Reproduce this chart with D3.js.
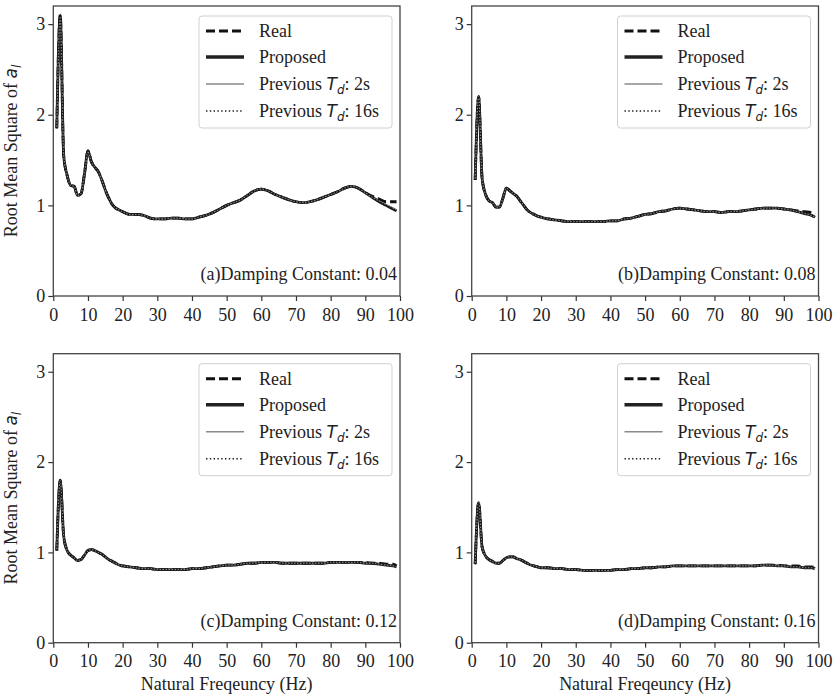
<!DOCTYPE html>
<html>
<head>
<meta charset="utf-8">
<script src="https://cdn.jsdelivr.net/npm/d3@7"></script>
<style>
  html, body { margin: 0; padding: 0; background: #fff; }
  svg { display: block; }
</style>
</head>
<body>
<svg id="chart" width="837" height="700"></svg>
<script>
// ---------------- DATA ----------------
const freq = [1,2,3,4,5,6,7,8,9,10,11,12,13,14,15,16,17,18,19,20,
  22,24,26,28,30,32,34,36,38,40,42,44,46,48,50,52,54,56,58,60,
  62,64,66,68,70,72,74,76,78,80,82,84,86,88,90,92,94,96,98,99];

// (a) damping 0.04
const proposedA = [1.85,3.10,1.55,1.33,1.22,1.21,1.11,1.13,1.35,1.60,1.48,1.42,1.37,1.28,1.17,1.08,1.01,0.97,0.95,0.93,
  0.90,0.90,0.89,0.86,0.85,0.85,0.86,0.86,0.85,0.85,0.87,0.89,0.92,0.96,1.00,1.03,1.06,1.11,1.16,1.18,
  1.16,1.12,1.09,1.06,1.04,1.03,1.04,1.06,1.09,1.12,1.15,1.19,1.21,1.19,1.14,1.09,1.04,1.00,0.96,0.94];
const realA = [1.85,3.10,1.55,1.33,1.22,1.21,1.11,1.13,1.35,1.60,1.48,1.42,1.37,1.28,1.17,1.08,1.01,0.97,0.95,0.93,
  0.90,0.90,0.89,0.86,0.85,0.85,0.86,0.86,0.85,0.85,0.87,0.89,0.92,0.96,1.00,1.03,1.06,1.11,1.16,1.18,
  1.16,1.12,1.09,1.06,1.04,1.03,1.04,1.06,1.09,1.12,1.15,1.19,1.21,1.19,1.14,1.10,1.07,1.04,1.04,1.04];
const prev2A = [1.85,3.08,1.56,1.33,1.22,1.21,1.11,1.13,1.35,1.59,1.48,1.42,1.37,1.28,1.17,1.08,1.01,0.97,0.95,0.93,
  0.90,0.90,0.89,0.86,0.85,0.85,0.86,0.86,0.85,0.85,0.87,0.89,0.92,0.96,1.00,1.03,1.06,1.11,1.16,1.18,
  1.16,1.12,1.09,1.06,1.04,1.03,1.04,1.06,1.09,1.12,1.15,1.19,1.21,1.19,1.14,1.09,1.05,1.01,0.97,0.95];
const prev16A = [1.85,3.10,1.55,1.33,1.22,1.21,1.11,1.13,1.35,1.60,1.48,1.42,1.37,1.28,1.17,1.08,1.01,0.97,0.95,0.93,
  0.90,0.90,0.89,0.86,0.85,0.85,0.86,0.86,0.85,0.85,0.87,0.89,0.92,0.96,1.00,1.03,1.06,1.11,1.16,1.18,
  1.16,1.12,1.09,1.06,1.04,1.03,1.04,1.06,1.09,1.12,1.15,1.19,1.21,1.19,1.14,1.09,1.04,1.00,0.96,0.94];

// (b) damping 0.08
const proposedB = [1.28,2.20,1.30,1.12,1.05,1.03,0.98,0.98,1.08,1.19,1.16,1.13,1.10,1.05,1.00,0.95,0.92,0.90,0.88,0.87,
  0.85,0.84,0.83,0.82,0.82,0.82,0.82,0.82,0.82,0.83,0.83,0.85,0.86,0.88,0.90,0.91,0.93,0.94,0.96,0.97,
  0.96,0.95,0.94,0.93,0.93,0.92,0.93,0.93,0.94,0.95,0.96,0.97,0.97,0.97,0.96,0.95,0.93,0.91,0.89,0.87];
const realB = [1.28,2.20,1.30,1.12,1.05,1.03,0.98,0.98,1.08,1.19,1.16,1.13,1.10,1.05,1.00,0.95,0.92,0.90,0.88,0.87,
  0.85,0.84,0.83,0.82,0.82,0.82,0.82,0.82,0.82,0.83,0.83,0.85,0.86,0.88,0.90,0.91,0.93,0.94,0.96,0.97,
  0.96,0.95,0.94,0.93,0.93,0.92,0.93,0.93,0.94,0.95,0.96,0.97,0.97,0.97,0.96,0.95,0.94,0.93,0.92,0.90];
const prev2B = proposedB;
const prev16B = proposedB;

// (c) damping 0.12
const proposedC = [1.02,1.80,1.18,1.02,0.97,0.94,0.91,0.92,0.97,1.02,1.03,1.02,1.00,0.98,0.95,0.92,0.90,0.88,0.86,0.85,
  0.84,0.83,0.82,0.82,0.81,0.81,0.81,0.81,0.81,0.82,0.82,0.83,0.84,0.85,0.86,0.86,0.87,0.88,0.88,0.89,
  0.89,0.89,0.88,0.88,0.88,0.88,0.88,0.88,0.88,0.89,0.89,0.89,0.89,0.89,0.88,0.88,0.87,0.86,0.85,0.84];
const realC = [1.02,1.80,1.18,1.02,0.97,0.94,0.91,0.92,0.97,1.02,1.03,1.02,1.00,0.98,0.95,0.92,0.90,0.88,0.86,0.85,
  0.84,0.83,0.82,0.82,0.81,0.81,0.81,0.81,0.81,0.82,0.82,0.83,0.84,0.85,0.86,0.86,0.87,0.88,0.88,0.89,
  0.89,0.89,0.88,0.88,0.88,0.88,0.88,0.88,0.88,0.89,0.89,0.89,0.89,0.89,0.89,0.88,0.88,0.87,0.87,0.85];
const prev2C = proposedC;
const prev16C = proposedC;

// (d) damping 0.16
const proposedD = [0.87,1.55,1.06,0.96,0.92,0.90,0.88,0.88,0.91,0.94,0.95,0.95,0.93,0.92,0.90,0.88,0.86,0.85,0.84,0.83,
  0.83,0.82,0.82,0.81,0.81,0.80,0.80,0.80,0.80,0.80,0.81,0.81,0.82,0.82,0.83,0.83,0.84,0.84,0.85,0.85,
  0.85,0.85,0.85,0.85,0.85,0.85,0.85,0.85,0.85,0.85,0.85,0.86,0.86,0.85,0.85,0.84,0.84,0.83,0.83,0.82];
const realD = [0.87,1.55,1.06,0.96,0.92,0.90,0.88,0.88,0.91,0.94,0.95,0.95,0.93,0.92,0.90,0.88,0.86,0.85,0.84,0.83,
  0.83,0.82,0.82,0.81,0.81,0.80,0.80,0.80,0.80,0.80,0.81,0.81,0.82,0.82,0.83,0.83,0.84,0.84,0.85,0.85,
  0.85,0.85,0.85,0.85,0.85,0.85,0.85,0.85,0.85,0.85,0.85,0.86,0.86,0.86,0.85,0.85,0.85,0.84,0.84,0.83];
const prev2D = proposedD;
const prev16D = proposedD;

const panelTitles = ["(a)Damping Constant: 0.04", "(b)Damping Constant: 0.08",
                     "(c)Damping Constant: 0.12", "(d)Damping Constant: 0.16"];
const xTicks = [0,10,20,30,40,50,60,70,80,90,100];
const yTicks = [0,1,2,3];
const seriesNames = ["Real", "Proposed", "Previous", "Previous"];

// ---------------- LAYOUT ----------------
const svg = d3.select("#chart");
const serif = "Liberation Serif";
const mathFont = "DejaVu Sans";
const FS = 18;

const panels = [
  {x0: 53.3, x1: 400, y0: 296, y1: 6, data: [realA, proposedA, prev2A, prev16A], left: true, bottom: false},
  {x0: 471.7, x1: 818.5, y0: 296, y1: 6, data: [realB, proposedB, prev2B, prev16B], left: false, bottom: false},
  {x0: 53.3, x1: 400, y0: 642.7, y1: 353.7, data: [realC, proposedC, prev2C, prev16C], left: true, bottom: true},
  {x0: 471.7, x1: 818.5, y0: 642.7, y1: 353.7, data: [realD, proposedD, prev2D, prev16D], left: false, bottom: true}
];

const styles = [
  {stroke: "#111", width: 2.8, dash: "9,4"},
  {stroke: "#1e1e1e", width: 2.8, dash: null},
  {stroke: "#9a9a9a", width: 1.0, dash: null},
  {stroke: "#111", width: 1.6, dash: "1.5,1.5"}
];
const legendStyles = [
  {stroke: "#111", width: 3, dash: "9,4"},
  {stroke: "#222", width: 3.4, dash: null},
  {stroke: "#8a8a8a", width: 1.5, dash: null},
  {stroke: "#1a1a1a", width: 1.6, dash: "1.4,2.4"}
];

panels.forEach((p, i) => {
  const x = d3.scaleLinear().domain([0, 100]).range([p.x0, p.x1]);
  const y = d3.scaleLinear().domain([0, 3.2]).range([p.y0, p.y1]);
  const g = svg.append("g");

  // axes
  const ax = g.append("g").attr("transform", `translate(0,${p.y0})`)
    .call(d3.axisBottom(x).tickValues(xTicks).tickSize(5).tickPadding(7).tickFormat(d3.format("d")));
  const ay = g.append("g").attr("transform", `translate(${p.x0},0)`)
    .call(d3.axisLeft(y).tickValues(yTicks).tickSize(5).tickPadding(3).tickFormat(d3.format("d")));
  [ax, ay].forEach(a => {
    a.attr("font-family", null).attr("font-size", null);
    a.select(".domain").remove();
    a.selectAll(".tick line").attr("stroke", "#333").attr("stroke-width", 1.2);
    a.selectAll(".tick text").style("font-family", serif).style("font-size", FS + "px").attr("fill", "#222");
  });

  // lines
  const clipId = "clip" + i;
  svg.append("clipPath").attr("id", clipId).append("rect")
    .attr("x", p.x0).attr("y", p.y1).attr("width", p.x1 - p.x0).attr("height", p.y0 - p.y1);
  const line = d3.line().x((d, k) => x(freq[k])).y(d => y(d)).curve(d3.curveMonotoneX);
  const lg = g.append("g").attr("clip-path", `url(#${clipId})`);
  p.data.forEach((arr, s) => {
    const st = styles[s];
    lg.append("path").datum(arr).attr("d", line)
      .attr("fill", "none").attr("stroke", st.stroke).attr("stroke-width", st.width)
      .attr("stroke-dasharray", st.dash).attr("stroke-linejoin", "round");
  });

  // frame
  g.append("rect").attr("x", p.x0).attr("y", p.y1).attr("width", p.x1 - p.x0).attr("height", p.y0 - p.y1)
    .attr("fill", "none").attr("stroke", "#444").attr("stroke-width", 1.3);

  // panel title
  g.append("text").attr("x", p.x1 - 3).attr("y", p.y0 - 16).attr("text-anchor", "end")
    .style("font-family", serif).style("font-size", FS + "px").attr("fill", "#222").text(panelTitles[i]);

  // legend
  const L = g.append("g").attr("transform", `translate(${p.x1 - 201},${p.y1 + 10})`);
  L.append("rect").attr("x", 0).attr("y", 0).attr("width", 193).attr("height", 112).attr("rx", 3)
    .attr("fill", "#fff").attr("fill-opacity", 0.8).attr("stroke", "#d0d0d0").attr("stroke-width", 1);
  const rows = [15, 41, 68, 95];
  rows.forEach((ry, s) => {
    const st = legendStyles[s];
    L.append("line").attr("x1", 7).attr("x2", 45).attr("y1", ry).attr("y2", ry)
      .attr("stroke", st.stroke).attr("stroke-width", st.width).attr("stroke-dasharray", st.dash);
    const t = L.append("text").attr("x", 60).attr("y", ry + 6)
      .style("font-family", serif).style("font-size", FS + "px").attr("fill", "#222");
    if (s < 2) {
      t.text(seriesNames[s]);
    } else {
      t.append("tspan").text(seriesNames[s] + " ");
      t.append("tspan").style("font-family", mathFont).style("font-style", "italic")
        .style("font-size", "17px").text("T");
      t.append("tspan").style("font-family", mathFont).style("font-style", "italic")
        .style("font-size", "12px").attr("dy", 4).text("d");
      t.append("tspan").attr("dy", -4).text(s === 2 ? ": 2s" : ": 16s");
    }
  });

  // axis labels
  if (p.left) {
    const cy = (p.y0 + p.y1) / 2;
    const t = g.append("text").attr("transform", `translate(17,${cy}) rotate(-90)`)
      .attr("text-anchor", "middle").style("font-family", serif).style("font-size", FS + "px").attr("fill", "#222");
    t.append("tspan").text("Root Mean Square of ");
    t.append("tspan").style("font-family", mathFont).style("font-style", "italic")
      .style("font-size", "17px").text("a");
    t.append("tspan").style("font-family", mathFont).style("font-style", "italic")
      .style("font-size", "12px").attr("dy", 4).text("l");
  }
  if (p.bottom) {
    g.append("text").attr("x", (p.x0 + p.x1) / 2).attr("y", 690).attr("text-anchor", "middle")
      .style("font-family", serif).style("font-size", FS + "px").attr("fill", "#222").text("Natural Freqeuncy (Hz)");
  }
});
</script>
</body>
</html>
